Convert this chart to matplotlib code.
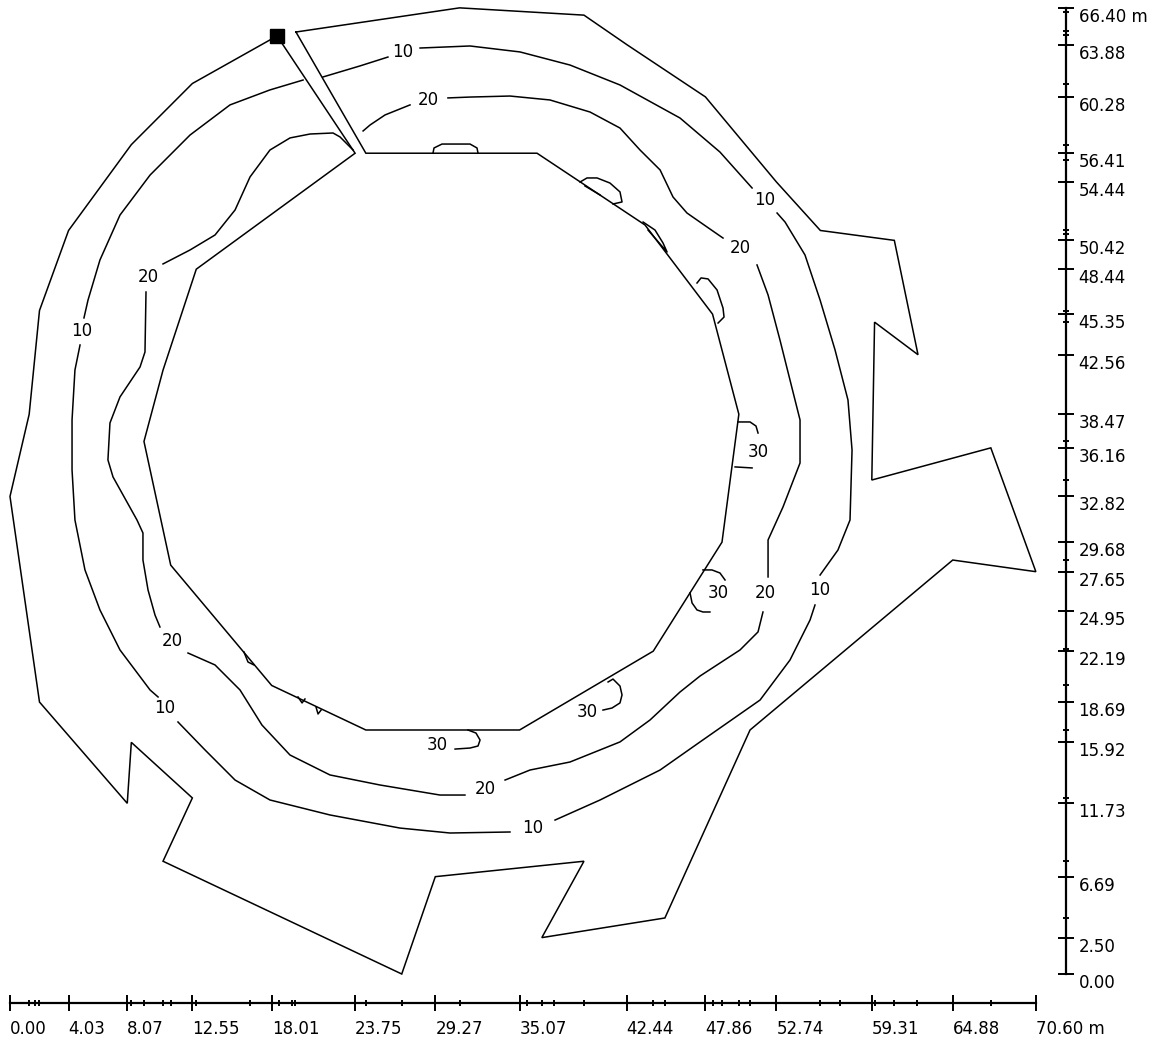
import matplotlib
matplotlib.use("Agg")
import matplotlib.pyplot as plt

# ---------------- data (metres) ----------------
# room outline (outer wall, slit corridor, inner wall) as one closed polygon
room_x = [19.68, 30.94, 39.5, 42.44, 47.86, 52.74, 55.77, 60.86, 62.49, 59.5, 59.31, 67.5, 70.6,
          64.88, 50.93, 45.07, 36.6, 39.5, 29.27, 26.96, 10.53, 12.55, 8.35, 8.07, 2.03, 0.0,
          1.32, 2.03, 4.03, 8.35, 12.55, 18.38,
          23.75, 12.82, 10.53, 9.22, 11.06, 18.01, 24.49, 35.07, 44.27, 49.0, 50.16, 48.35,
          43.70, 36.27, 24.49, 19.68]
room_y = [64.74, 66.40, 65.9, 63.88, 60.28, 54.44, 51.1, 50.42, 42.56, 44.8, 33.95, 36.16, 27.65,
          28.45, 16.77, 3.85, 2.50, 7.75, 6.69, 0.0, 7.75, 12.1, 15.92, 11.73, 18.69, 32.82,
          38.47, 45.6, 51.1, 57.0, 61.2, 64.47,
          56.41, 48.44, 41.5, 36.6, 28.1, 19.83, 16.77, 16.77, 22.19, 29.68, 38.47, 45.35,
          51.48, 56.41, 56.41, 64.74]

marker_xy = (18.38, 64.47)

# isolines: list of (x list, y list) pieces
iso10 = [
    ([20.17, 17.89, 15.14, 12.39, 9.64, 7.57, 6.19, 5.37, 5.09],
     [61.44, 60.76, 59.73, 57.66, 54.91, 52.16, 49.07, 46.32, 45.09]),
    ([4.82, 4.47, 4.27, 4.27, 4.47, 5.16, 6.19, 7.57, 9.64, 10.19],
     [43.23, 41.51, 38.08, 34.64, 31.20, 27.77, 25.02, 22.27, 19.52, 19.04]),
    ([11.56, 13.42, 15.49, 17.89, 22.02, 26.84, 30.28, 34.41],
     [17.32, 15.40, 13.33, 11.96, 10.93, 10.03, 9.69, 9.76]),
    ([37.51, 40.61, 44.74, 47.49, 51.62, 53.68, 55.06, 55.40],
     [10.58, 11.96, 14.02, 15.95, 18.83, 21.58, 24.33, 25.36]),
    ([55.75, 56.98, 57.81, 57.95, 57.67, 56.78, 55.75, 54.71, 53.34, 52.79],
     [27.42, 29.14, 31.20, 36.01, 39.45, 42.89, 46.32, 49.42, 51.68, 52.30]),
    ([51.07, 48.86, 46.11, 41.98, 38.54, 35.10, 31.66, 28.22],
     [54.02, 56.49, 58.83, 61.10, 62.47, 63.37, 63.78, 63.64]),
    ([26.01, 24.09, 21.54],
     [63.02, 62.41, 61.65]),
]
iso20 = [
    ([23.61, 22.71, 22.23, 20.65, 19.27, 17.89, 16.52, 15.49, 14.11, 12.39, 10.53],
     [56.63, 57.53, 57.80, 57.73, 57.46, 56.63, 54.78, 52.51, 50.79, 49.76, 48.80]),
    ([9.36, 9.29, 8.95, 7.57, 6.88, 6.74, 7.09, 8.74, 9.15, 9.15, 9.50, 9.98, 10.32],
     [46.87, 42.75, 41.72, 39.66, 37.87, 35.33, 34.16, 31.20, 30.31, 28.45, 26.39, 24.67, 23.85]),
    ([12.25, 14.11, 15.83, 17.34, 19.27, 22.02, 25.46, 29.59, 31.31],
     [22.06, 21.24, 19.52, 17.11, 15.05, 13.68, 12.99, 12.30, 12.30]),
    ([34.07, 35.79, 38.54, 41.98, 44.05, 46.11, 47.49, 50.24, 51.48, 51.82],
     [13.33, 14.02, 14.57, 15.95, 17.46, 19.38, 20.48, 22.27, 23.51, 24.88]),
    ([52.17, 52.17, 53.20, 54.37, 54.37, 53.68, 52.99, 52.17, 51.41],
     [27.29, 29.83, 32.10, 35.12, 38.08, 40.82, 43.57, 46.67, 48.73]),
    ([49.07, 47.97, 46.59, 45.63, 44.74, 43.36, 41.98, 39.92, 37.16, 34.41, 31.66, 30.14],
     [50.58, 51.34, 52.30, 53.40, 55.26, 56.63, 58.14, 59.24, 60.07, 60.34, 60.27, 60.21]),
    ([27.53, 25.81, 24.78, 24.30],
     [59.73, 59.04, 58.35, 57.94]),
]
iso30 = [
    ([29.11, 29.18, 29.73, 31.66, 32.14, 32.21], [56.41, 56.77, 57.04, 57.04, 56.77, 56.41]),
    ([39.23, 39.71, 40.40, 41.29, 41.98, 42.12, 41.50], [54.43, 54.71, 54.71, 54.36, 53.75, 53.06, 52.92]),
    ([39.57, 40.61], [54.16, 53.54]),
    ([43.57, 44.39, 44.94, 45.22, 44.74, 43.91], [51.68, 51.13, 50.24, 49.62, 50.17, 51.13]),
    ([47.28, 47.56, 48.04, 48.66, 49.07, 49.14, 48.73], [47.49, 47.84, 47.77, 47.01, 45.77, 45.15, 44.74]),
    ([50.10, 50.93, 51.34, 51.48], [37.94, 37.94, 37.66, 37.18]),
    ([49.90, 51.07], [34.85, 34.78]),
    ([47.69, 48.31, 48.86, 49.21], [27.77, 27.77, 27.56, 27.08]),
    ([46.80, 46.94, 47.28, 47.69, 48.17], [26.19, 25.50, 25.02, 24.88, 24.88]),
    ([41.16, 41.50, 41.98, 42.12, 41.98, 41.43, 40.81], [20.07, 20.27, 19.79, 19.18, 18.63, 18.28, 18.14]),
    ([31.52, 32.07, 32.35, 32.21, 31.66, 30.63], [16.77, 16.56, 16.08, 15.67, 15.53, 15.46]),
    ([16.10, 16.38, 16.79], [22.13, 21.44, 21.24]),
    ([19.82, 20.10, 20.30], [19.04, 18.63, 18.90]),
    ([21.06, 21.20, 21.41], [18.35, 17.87, 18.14]),
]

label_text = ["10", "10", "10", "10", "10", "10",
              "20", "20", "20", "20", "20", "20",
              "30", "30", "30", "30"]
label_x = [27.05, 51.96, 55.75, 35.99, 10.67, 4.96,
           28.77, 50.24, 51.96, 32.69, 11.15, 9.50,
           51.48, 48.73, 39.71, 29.39]
label_y = [63.37, 53.20, 26.39, 10.03, 18.28, 44.19,
           60.07, 49.90, 26.19, 12.71, 22.89, 47.90,
           35.88, 26.19, 18.01, 15.74]

x_major = [0.00, 4.03, 8.07, 12.55, 18.01, 23.75, 29.27, 35.07, 42.44, 47.86, 52.74, 59.31, 64.88, 70.60]
x_major_lbl = ["0.00", "4.03", "8.07", "12.55", "18.01", "23.75", "29.27", "35.07", "42.44",
               "47.86", "52.74", "59.31", "64.88", "70.60 m"]
x_minor = [1.32, 1.69, 2.03, 8.35, 9.22, 10.53, 11.06, 12.82, 16.51, 18.48, 19.40, 19.60, 24.49,
           26.96, 30.94, 35.6, 36.6, 37.44, 39.5, 44.27, 45.07, 48.35, 49.0, 50.16, 50.93,
           55.77, 57.1, 59.5, 60.86, 62.4, 67.5]
y_major = [0.00, 2.50, 6.69, 11.73, 15.92, 18.69, 22.19, 24.95, 27.65, 29.68, 32.82, 36.16, 38.47,
           42.56, 45.35, 48.44, 50.42, 54.44, 56.41, 60.28, 63.88, 66.40]
y_major_lbl = ["0.00", "2.50", "6.69", "11.73", "15.92", "18.69", "22.19", "24.95", "27.65",
               "29.68", "32.82", "36.16", "38.47", "42.56", "45.35", "48.44", "50.42", "54.44",
               "56.41", "60.28", "63.88", "66.40 m"]
y_minor = [3.85, 7.75, 12.1, 16.77, 19.83, 22.35, 28.45, 33.95, 36.6, 44.8, 45.6, 50.85, 51.1,
           55.97, 57.0, 61.2, 64.56, 64.8, 66.12]

# ---------------- drawing ----------------
plt.rcParams['font.family'] = ['DejaVu Sans']
fig = plt.figure(figsize=(11.63, 10.43), dpi=100)
ax = fig.add_axes([0, 0, 1, 1])
ax.set_xlim(-0.688, 79.35)
ax.set_ylim(-4.742, 66.94)

lw = 1.1
ax.plot(room_x, room_y, color='black', lw=lw, solid_joinstyle='miter')
for xs, ys in iso10 + iso20 + iso30:
    ax.plot(xs, ys, color='black', lw=lw)
ax.plot([marker_xy[0]], [marker_xy[1]], marker='s', ms=10, color='black', mec='black')

for t, x, y in zip(label_text, label_x, label_y):
    ax.text(x, y, t, ha='center', va='center', fontsize=12, color='black')

# axes
for s in ['top', 'left']:
    ax.spines[s].set_visible(False)
ax.spines['bottom'].set_position(('data', -2.0))
ax.spines['bottom'].set_bounds(0, 70.6)
ax.spines['bottom'].set_linewidth(1.6)
ax.spines['right'].set_position(('data', 72.68))
ax.spines['right'].set_bounds(0, 66.4)
ax.spines['right'].set_linewidth(1.6)

ax.xaxis.set_ticks_position('bottom')
ax.yaxis.set_ticks_position('right')
ax.set_xticks(x_major)
ax.set_xticklabels(x_major_lbl)
ax.set_xticks(x_minor, minor=True)
ax.set_yticks(y_major)
ax.set_yticklabels(y_major_lbl)
ax.set_yticks(y_minor, minor=True)
ax.tick_params(axis='both', which='major', direction='inout', length=12, width=1.4,
               labelsize=12, colors='black')
ax.tick_params(axis='x', which='major', pad=6)
ax.tick_params(axis='y', which='major', pad=3)
ax.tick_params(axis='both', which='minor', direction='inout', length=5, width=1.4)
plt.setp(ax.get_xticklabels(), ha='left')
plt.setp(ax.get_yticklabels(), ha='left', va='top')

fig.savefig('out.png', dpi=100)
